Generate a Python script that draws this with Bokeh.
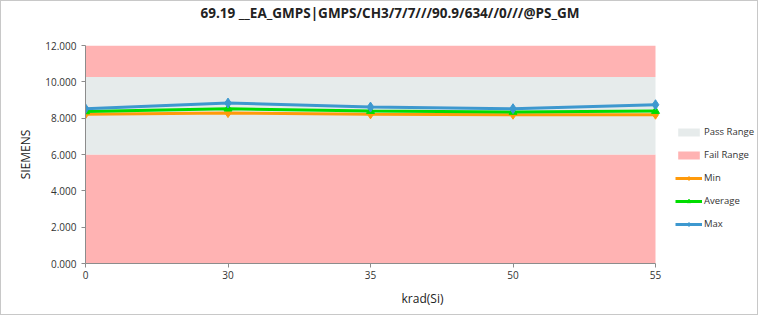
from bokeh.plotting import figure
from bokeh.models import Range1d, FixedTicker, NumeralTickFormatter, Legend, LegendItem, Title
from bokeh.embed import file_html
from bokeh.resources import INLINE

# ---- data ----
categories = ["0", "30", "35", "50", "55"]
min_vals = [8.21, 8.28, 8.21, 8.19, 8.19]
avg_vals = [8.37, 8.52, 8.39, 8.34, 8.39]
max_vals = [8.52, 8.83, 8.61, 8.52, 8.74]
pass_low = 6.0
pass_high = 10.26
y_min = 0.0
y_max = 12.0
y_ticks = [0, 2, 4, 6, 8, 10, 12]
title_text = "69.19 __EA_GMPS|GMPS/CH3/7/7///90.9/634//0///@PS_GM"

xs = list(range(len(categories)))
FONT = "Open Sans"

W, H = 758, 315
LEFT, PLOT_W, TOP, BOTTOM = 84, 570, 44, 53
frame_w = W - LEFT
x_end = xs[-1] * frame_w / PLOT_W  # extra room on the right for the legend

p = figure(width=W, height=H, output_backend="svg", toolbar_location=None,
           x_range=Range1d(xs[0], x_end), y_range=Range1d(y_min, y_max),
           min_border_left=LEFT, min_border_right=0, min_border_top=TOP, min_border_bottom=BOTTOM)
p.outline_line_color = None
p.xgrid.visible = False
p.ygrid.visible = False
p.background_fill_color = "white"
p.styles = {"border": "1px solid #c8c8c8", "box-sizing": "border-box"}

# spacer (nearest the frame) then the real title above it
spacer = Title(text=" ", text_font=FONT, text_font_size="12px", standoff=5)
p.add_layout(spacer, "above")
t = Title(text=title_text, align="left", text_font=FONT, text_font_size="13.5px",
          text_font_style="bold", text_color="#222222", offset=115, standoff=0)
p.add_layout(t, "above")

# bands
fail_hi = p.quad(left=xs[0], right=xs[-1], bottom=pass_high, top=y_max, fill_color="#FFB3B3", line_color=None)
fail_lo = p.quad(left=xs[0], right=xs[-1], bottom=y_min, top=pass_low, fill_color="#FFB3B3", line_color=None)
pass_r = p.quad(left=xs[0], right=xs[-1], bottom=pass_low, top=pass_high, fill_color="#E6EBEB", line_color=None)

c_min, c_avg, c_max = "#FF9A0A", "#00DD00", "#3D98CF"
l_min = p.line(xs, min_vals, line_color=c_min, line_width=3)
m_min = p.scatter(xs, min_vals, marker="diamond", size=9, color=c_min)
l_avg = p.line(xs, avg_vals, line_color=c_avg, line_width=3)
m_avg = p.scatter(xs, avg_vals, marker="triangle", size=8, color=c_avg)
l_max = p.line(xs, max_vals, line_color=c_max, line_width=3)
m_max = p.scatter(xs, max_vals, marker="diamond", size=10, color=c_max)

# axes
p.xaxis.ticker = FixedTicker(ticks=xs)
p.xaxis.bounds = (xs[0], xs[-1])
p.xaxis.major_label_overrides = {i: c for i, c in zip(xs, categories)}
p.yaxis.ticker = FixedTicker(ticks=y_ticks)
p.yaxis.formatter = NumeralTickFormatter(format="0.000")
for ax in (p.xaxis[0], p.yaxis[0]):
    ax.axis_line_color = "#8c8c8c"
    ax.major_tick_line_color = "#8c8c8c"
    ax.major_tick_in = 0
    ax.major_tick_out = 4
    ax.minor_tick_line_color = None
    ax.major_label_text_font = FONT
    ax.major_label_text_font_size = "10px"
    ax.major_label_text_color = "#333333"
    ax.axis_label_text_font = FONT
    ax.axis_label_text_font_size = "12px"
    ax.axis_label_text_font_style = "normal"
    ax.axis_label_text_color = "#222222"
p.xaxis.axis_label = "krad(Si)"
p.yaxis.axis_label = "SIEMENS"
p.xaxis.axis_label_standoff = 8
p.xaxis.major_label_standoff = 3
p.yaxis.axis_label_standoff = 8

legend = Legend(items=[
    LegendItem(label="Pass Range", renderers=[pass_r]),
    LegendItem(label="Fail Range", renderers=[fail_hi]),
    LegendItem(label="Min", renderers=[l_min, m_min]),
    LegendItem(label="Average", renderers=[l_avg, m_avg]),
    LegendItem(label="Max", renderers=[l_max, m_max]),
], location=(590, 32), border_line_color=None, background_fill_alpha=0,
   label_text_font=FONT, label_text_font_size="9.5px", label_text_color="#333333",
   glyph_width=27, glyph_height=10, label_standoff=2, spacing=8, padding=0, margin=0,
   label_height=15)
p.add_layout(legend, "center")

open("out.html", "w").write(file_html(p, INLINE))
